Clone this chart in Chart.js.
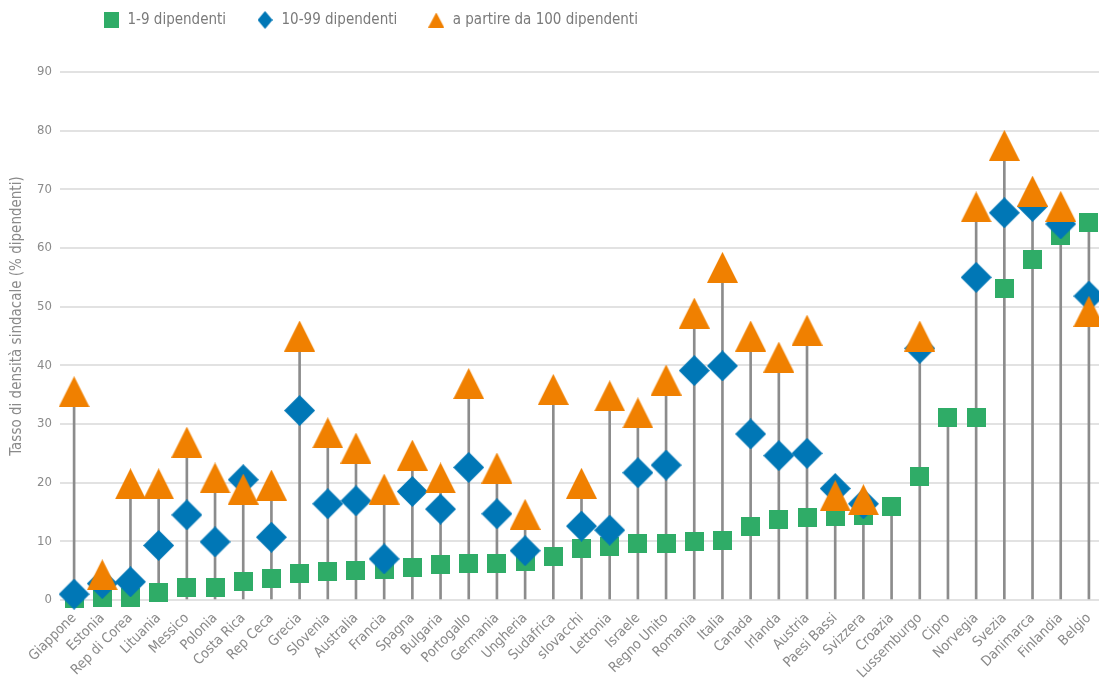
<!DOCTYPE html>
<html lang="it">
<head>
<meta charset="utf-8">
<script src="https://cdn.jsdelivr.net/npm/chart.js@4.4.1/dist/chart.umd.min.js"></script>
<style>
  html, body { margin: 0; padding: 0; background: #fff; overflow: hidden; }
  /* a touch wider than the window: the reference crops its last column */
  #wrap { width: 1103px; height: 686px; position: relative; }
</style>
</head>
<body>
<div id="wrap"><canvas id="chart"></canvas></div>
<script>
// Data
const countries = ["Giappone", "Estonia", "Rep di Corea", "Lituania", "Messico", "Polonia", "Costa Rica",
  "Rep Ceca", "Grecia", "Slovenia", "Australia", "Francia", "Spagna", "Bulgaria", "Portogallo", "Germania",
  "Ungheria", "Sudafrica", "slovacchi", "Lettonia", "Israele", "Regno Unito", "Romania", "Italia", "Canada",
  "Irlanda", "Austria", "Paesi Bassi", "Svizzera", "Croazia", "Lussemburgo", "Cipro", "Norvegia", "Svezia",
  "Danimarca", "Finlandia", "Belgio"];

const small = [0.3, 0.5, 0.5, 1.2, 2.2, 2.2, 3.1, 3.6, 4.6, 4.8, 5.1, 5.2, 5.5, 6.1, 6.3, 6.3, 6.6, 7.5,
  8.8, 9.1, 9.6, 9.6, 9.9, 10.1, 12.6, 13.8, 14.0, 14.2, 14.4, 16.0, 21.0, 31.1, 31.1, 53.1, 58.0, 62.1, 64.3];

const medium = [1.0, 2.8, 3.1, 9.3, 14.5, 9.9, 20.5, 10.7, 32.3, 16.4, 16.9, 7.0, 18.5, 15.5, 22.6, 14.7,
  8.4, null, 12.6, 11.9, 21.7, 23.0, 39.1, 39.9, 28.3, 24.6, 25.0, 19.0, 16.4, null, 42.9, null, 55.0, 66.0,
  67.1, 64.1, 51.8];

const large = [35.5, 4.3, 19.8, 19.8, 26.9, 20.8, 18.9, 19.6, 45.0, 28.5, 25.9, 18.9, 24.7, 20.8, 36.9, 22.5,
  14.6, 35.9, 19.9, 34.8, 31.9, 37.5, 48.9, 56.7, 45.0, 41.4, 46.0, 17.8, 17.1, null, 45.0, null, 67.0, 77.5,
  69.7, 67.1, 49.2];

const yTicks = [0, 10, 20, 30, 40, 50, 60, 70, 80, 90];
const seriesNames = ["1-9 dipendenti", "10-99 dipendenti", "a partire da 100 dipendenti"];
const yTitleText = "Tasso di densità sindacale (% dipendenti)";

const FONT = '"DejaVu Sans Condensed", "Liberation Sans", sans-serif';
const green = "#2fac67";
const blue = "#0077b6";
const orange = "#f08000";
const stemColor = "#8c8c8c";

// stems go from 0 to the highest marker of each country
const stems = countries.map((c, i) =>
  [0, Math.max(small[i] ?? 0, medium[i] ?? 0, large[i] ?? 0)]);

// marker images
function makeMarker(shape, w, h, color) {
  const c = document.createElement("canvas");
  c.width = w;
  c.height = h;
  const g = c.getContext("2d");
  g.fillStyle = color;
  g.beginPath();
  if (shape === "square") {
    g.rect(0, 0, w, h);
  } else if (shape === "diamond") {
    g.moveTo(w / 2, 0); g.lineTo(w, h / 2); g.lineTo(w / 2, h); g.lineTo(0, h / 2);
  } else {
    g.moveTo(w / 2, 0); g.lineTo(w, h); g.lineTo(0, h);
  }
  g.closePath();
  g.fill();
  return c;
}

const squareM = makeMarker("square", 19, 19, green);
const diamondM = makeMarker("diamond", 31, 31, blue);
const triangleM = makeMarker("triangle", 31, 31, orange);
const legendMarkers = [
  makeMarker("square", 15, 16, green),
  makeMarker("diamond", 15, 18, blue),
  makeMarker("triangle", 16, 15, orange),
];

// move the legend to where the reference has it
const legendShift = {
  id: "legendShift",
  afterLayout(chart) {
    const lg = chart.legend;
    const h = lg.bottom - lg.top;
    lg.left = 72;
    lg.top = -17.5;
    lg.bottom = lg.top + h;
  },
};

// rotated y axis title
const yTitle = {
  id: "yTitle",
  afterDraw(chart) {
    const ctx = chart.ctx;
    ctx.save();
    ctx.translate(17, 316);
    ctx.rotate(-Math.PI / 2);
    ctx.font = `15px ${FONT}`;
    ctx.fillStyle = "#8a8a8a";
    ctx.textAlign = "center";
    ctx.textBaseline = "middle";
    ctx.fillText(yTitleText, 0, 0);
    ctx.restore();
  },
};

const pointSet = (label, data, marker, order) => ({
  type: "line",
  label: label,
  data: data,
  showLine: false,
  pointStyle: marker,
  pointRadius: 12,
  pointHoverRadius: 12,
  clip: false,
  order: order,
});

const ctx = document.getElementById("chart").getContext("2d");
new Chart(ctx, {
  type: "bar",
  data: {
    labels: countries,
    datasets: [
      {
        type: "bar",
        label: "stem",
        data: stems,
        backgroundColor: stemColor,
        barThickness: 2,
        order: 4,
      },
      pointSet(seriesNames[0], small, squareM, 3),
      pointSet(seriesNames[1], medium, diamondM, 2),
      pointSet(seriesNames[2], large, triangleM, 1),
    ],
  },
  options: {
    responsive: true,
    maintainAspectRatio: false,
    animation: false,
    layout: { autoPadding: false, padding: { top: 17, right: 0, left: 0, bottom: 0 } },
    scales: {
      x: {
        offset: true,
        grid: { display: false },
        border: { display: false },
        ticks: {
          autoSkip: false,
          maxRotation: 45,
          minRotation: 45,
          padding: 2,
          color: "#8a8a8a",
          font: { family: FONT, size: 14 },
        },
        afterFit: (scale) => {
          scale.height = 86;
          scale.paddingLeft = 0;
          scale.paddingRight = 0;
        },
      },
      y: {
        min: 0,
        max: 90,
        grid: { color: "#e2e2e2", lineWidth: 2, drawTicks: false },
        border: { display: false },
        ticks: {
          padding: 8,
          color: "#8a8a8a",
          font: { family: FONT, size: 13 },
        },
        afterBuildTicks: (scale) => { scale.ticks = yTicks.map((v) => ({ value: v })); },
        afterFit: (scale) => { scale.width = 60; },
      },
    },
    plugins: {
      tooltip: { enabled: false },
      legend: {
        position: "top",
        align: "start",
        labels: {
          usePointStyle: true,
          pointStyleWidth: 18,
          padding: 30,
          color: "#7a7a7a",
          font: { family: FONT, size: 15 },
          generateLabels: (chart) =>
            Chart.defaults.plugins.legend.labels.generateLabels(chart)
              .filter((l) => l.datasetIndex > 0)
              .sort((a, b) => a.datasetIndex - b.datasetIndex)
              .map((l) => ({ ...l, pointStyle: legendMarkers[l.datasetIndex - 1] })),
        },
      },
    },
  },
  plugins: [legendShift, yTitle],
});
</script>
</body>
</html>
